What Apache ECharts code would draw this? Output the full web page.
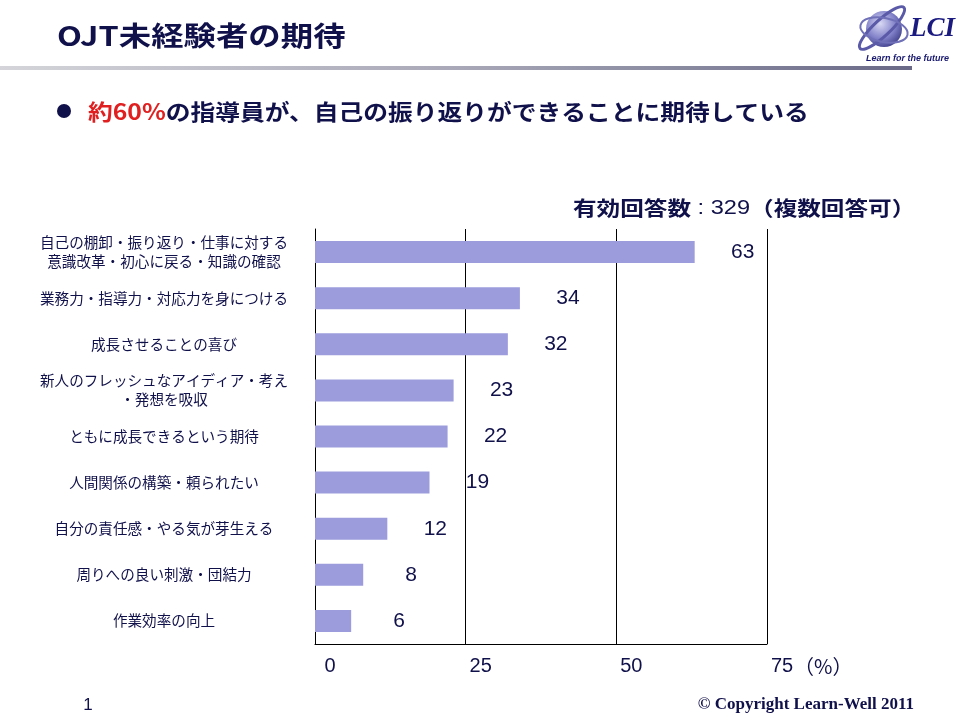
<!DOCTYPE html>
<html><head><meta charset="utf-8">
<script src="https://cdn.jsdelivr.net/npm/echarts@6/dist/echarts.min.js"></script>
<style>html,body{margin:0;padding:0;background:#fff}#c{width:960px;height:720px}</style>
</head><body><div id="c"></div>
<script>
const categories = [
  '自己の棚卸・振り返り・仕事に対する\n意識改革・初心に戻る・知識の確認',
  '業務力・指導力・対応力を身につける',
  '成長させることの喜び',
  '新人のフレッシュなアイディア・考え\n・発想を吸収',
  'ともに成長できるという期待',
  '人間関係の構築・頼られたい',
  '自分の責任感・やる気が芽生える',
  '周りへの良い刺激・団結力',
  '作業効率の向上'
];
const values = [63, 34, 32, 23, 22, 19, 12, 8, 6];
const xTicks = [0, 25, 50, 75];
const titleText = 'OJT未経験者の期待';
const headlineRed = '約60%';
const headlineRest = 'の指導員が、自己の振り返りができることに期待している';
const noteText = ['有効回答数', ' : 329', '（複数回答可）'];

const NAVY = '#10104a';
const CJK = '"Noto Sans CJK JP", sans-serif';
const LAT = '"Liberation Sans", Arial, sans-serif';

const chart = echarts.init(document.getElementById('c'), null, {renderer: 'canvas'});
chart.setOption({
  backgroundColor: '#ffffff',
  animation: false,
  grid: {left: 315, top: 229, width: 452, height: 415, containLabel: false},
  xAxis: {
    type: 'value', min: xTicks[0], max: xTicks[xTicks.length - 1], interval: 25,
    axisLine: {show: true, lineStyle: {color: '#000', width: 1}},
    axisTick: {show: false},
    splitLine: {show: true, lineStyle: {color: '#000', width: 1}},
    axisLabel: {
      color: NAVY, fontFamily: LAT, fontSize: 20, margin: 12,
      padding: [0, 0, 0, 30]
    }
  },
  yAxis: {
    type: 'category', inverse: true, data: categories,
    axisLine: {show: true, lineStyle: {color: '#000', width: 1}},
    axisTick: {show: false},
    axisLabel: {
      color: NAVY, fontFamily: CJK, fontSize: 14.6, lineHeight: 19,
      align: 'center', margin: 151
    }
  },
  series: [{
    type: 'bar', data: values, barWidth: 22,
    itemStyle: {color: '#9c9cdc'},
    label: {
      show: true, position: 'right', distance: 48, align: 'center',
      color: NAVY, fontFamily: LAT, fontSize: 21
    }
  }],
  graphic: [
    {type: 'text', x: 57, y: 36, scaleX: 1.2,
     style: {text: titleText, font: 'bold 27px ' + CJK, fill: NAVY, textVerticalAlign: 'middle'}},
    {type: 'rect', shape: {x: 0, y: 66, width: 912, height: 4},
     style: {fill: new echarts.graphic.LinearGradient(0, 0, 1, 0, [
       {offset: 0, color: '#d4d4da'}, {offset: 0.5, color: '#a8a8b8'}, {offset: 1, color: '#6a6a88'}])}},
    {type: 'circle', shape: {cx: 884, cy: 29, r: 18},
     style: {fill: new echarts.graphic.RadialGradient(0.4, 0.35, 0.7, [
       {offset: 0, color: '#d8d8f4'}, {offset: 0.6, color: '#8080c8'}, {offset: 1, color: '#40408c'}])}},
    {type: 'ellipse', shape: {cx: 882, cy: 28, rx: 30, ry: 8}, rotation: 0.75, originX: 882, originY: 28,
     style: {fill: 'none', stroke: '#5a5aa8', lineWidth: 3}},
    {type: 'ellipse', shape: {cx: 884, cy: 30, rx: 24, ry: 12}, rotation: -0.2, originX: 884, originY: 30,
     style: {fill: 'none', stroke: '#7070b8', lineWidth: 2}},
    {type: 'text', x: 910, y: 29,
     style: {text: 'LCI', font: 'italic bold 27px "Liberation Serif", serif', fill: '#1a1a80', textVerticalAlign: 'middle'}},
    {type: 'text', x: 949, y: 59,
     style: {text: 'Learn for the future', font: 'italic bold 9px ' + LAT, fill: '#1a1a70', textAlign: 'right', textVerticalAlign: 'middle'}},
    {type: 'circle', shape: {cx: 64, cy: 111, r: 7}, style: {fill: NAVY}},
    {type: 'text', x: 88, y: 112, scaleX: 1.125,
     style: {
       text: '{r|' + headlineRed + '}{n|' + headlineRest + '}',
       textVerticalAlign: 'middle',
       rich: {
         r: {font: 'bold 22px ' + CJK, fill: '#e02020', color: '#e02020'},
         n: {font: 'bold 22px ' + CJK, fill: NAVY, color: NAVY}
       }
     }},
    {type: 'text', x: 573, y: 208, scaleX: 1.18,
     style: {
       text: '{a|' + noteText[0] + '}{b|' + noteText[1] + '}{a|' + noteText[2] + '}',
       textVerticalAlign: 'middle',
       rich: {
         a: {font: 'bold 20px ' + CJK, fill: NAVY, color: NAVY},
         b: {font: '20px ' + LAT, fill: NAVY, color: NAVY}
       }
     }},
    {type: 'text', x: 794, y: 666,
     style: {text: '（%）', font: '20px ' + CJK, fill: NAVY, textVerticalAlign: 'middle'}},
    {type: 'text', x: 88, y: 705,
     style: {text: '1', font: '17px "Liberation Sans Narrow", ' + LAT, fill: NAVY, textAlign: 'center', textVerticalAlign: 'middle'}},
    {type: 'text', x: 914, y: 705,
     style: {text: '© Copyright Learn-Well 2011', font: 'bold 17px "Liberation Serif", serif', fill: NAVY, textAlign: 'right', textVerticalAlign: 'middle'}}
  ]
});
</script>
</body></html>
